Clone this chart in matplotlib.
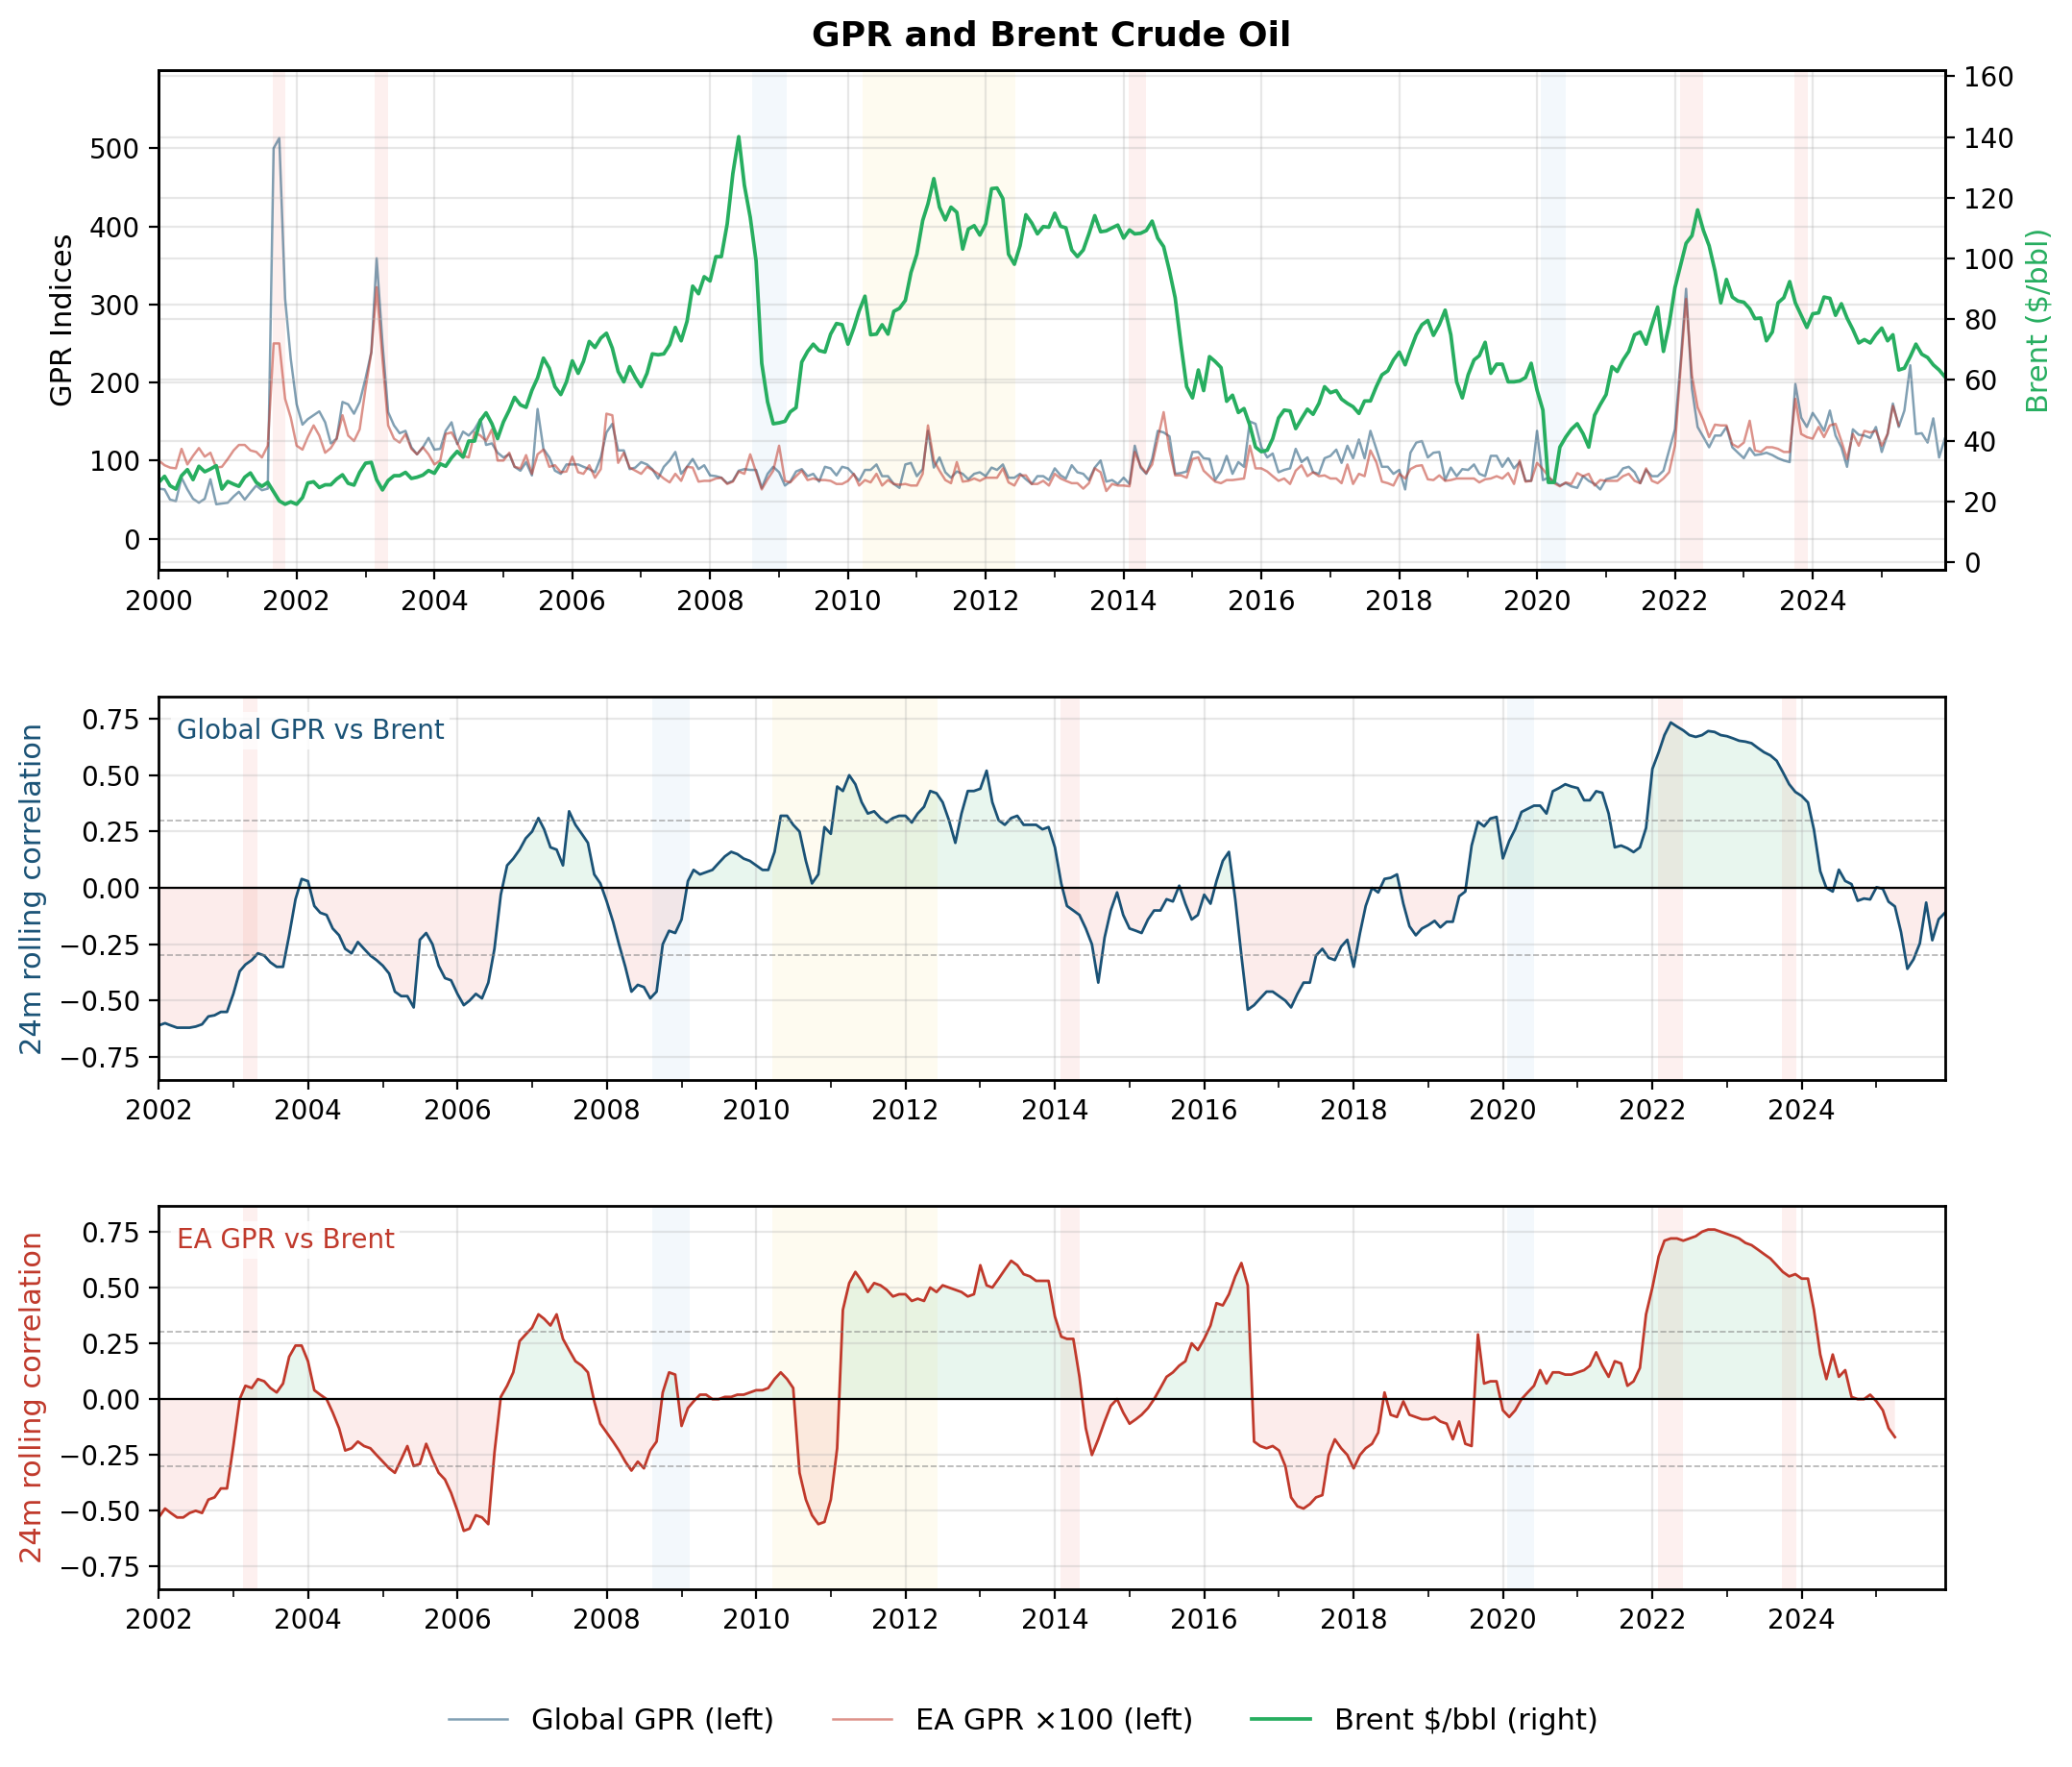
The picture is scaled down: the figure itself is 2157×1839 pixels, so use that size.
import numpy as np
import pandas as pd
import matplotlib
matplotlib.use("Agg")
import matplotlib.pyplot as plt
import matplotlib.dates as mdates


# 1. DATOS (mensuales)

# Global GPR, 2000-01 .. 2025-12
gpr_global = [
    64, 63, 50, 48, 78, 63, 51, 46, 51, 76, 44, 45,
    46, 54, 60, 50, 59, 68, 62, 64, 500, 513, 307, 230,
    172, 146, 153, 158, 163, 149, 122, 128, 175, 172, 160, 175,
    205, 239, 359, 250, 162, 145, 135, 138, 117, 108, 117, 129,
    114, 115, 138, 149, 121, 137, 132, 140, 153, 120, 122, 110,
    104, 108, 92, 87, 98, 81, 166, 115, 104, 87, 83, 95,
    95, 95, 92, 89, 85, 104, 136, 147, 113, 113, 89, 91,
    98, 95, 89, 77, 92, 100, 111, 83, 92, 102, 89, 94,
    81, 80, 78, 71, 74, 87, 89, 88, 88, 65, 83, 92,
    85, 68, 73, 86, 89, 80, 83, 73, 92, 90, 81, 92,
    90, 82, 74, 88, 88, 95, 80, 80, 70, 65, 95, 97,
    80, 89, 138, 91, 104, 85, 78, 86, 83, 76, 83, 85,
    80, 91, 88, 95, 78, 78, 83, 76, 70, 80, 80, 75,
    90, 81, 77, 94, 85, 83, 75, 91, 100, 73, 75, 70,
    78, 70, 119, 91, 83, 102, 138, 136, 131, 83, 84, 86,
    111, 111, 103, 102, 75, 86, 106, 83, 98, 92, 150, 147,
    117, 104, 109, 85, 88, 90, 115, 98, 104, 85, 83, 103,
    106, 114, 97, 119, 103, 127, 103, 138, 115, 92, 92, 83,
    88, 63, 110, 123, 125, 104, 110, 111, 75, 91, 80, 89,
    88, 95, 83, 80, 106, 106, 92, 103, 90, 98, 74, 74,
    138, 75, 78, 73, 68, 71, 67, 65, 80, 74, 70, 63,
    76, 78, 80, 90, 92, 85, 71, 88, 80, 80, 87, 113,
    140, 230, 320, 192, 143, 130, 117, 132, 132, 143, 117, 110,
    103, 116, 107, 108, 110, 107, 103, 100, 98, 198, 155, 143,
    161, 150, 138, 164, 132, 117, 92, 140, 133, 132, 129, 143,
    111, 134, 173, 143, 164, 222, 134, 135, 123, 154, 104, 128,
]

# EA GPR x100, 2000-01 .. 2025-04
gpr_ea = [
    100, 94, 91, 90, 115, 95, 106, 116, 105, 110, 91, 92,
    102, 113, 120, 120, 113, 111, 104, 119, 250, 250, 179, 155,
    119, 114, 130, 145, 132, 110, 116, 128, 158, 132, 125, 140,
    192, 239, 322, 230, 145, 128, 123, 134, 115, 108, 117, 108,
    95, 100, 134, 136, 123, 106, 104, 136, 132, 125, 140, 100,
    100, 110, 92, 90, 107, 83, 108, 114, 92, 94, 85, 86,
    105, 85, 83, 94, 78, 89, 160, 158, 97, 110, 91, 87,
    83, 92, 88, 83, 77, 72, 83, 74, 92, 91, 73, 74,
    74, 77, 78, 70, 73, 86, 83, 108, 85, 63, 76, 87,
    119, 74, 72, 80, 87, 75, 77, 75, 75, 74, 70, 70,
    74, 83, 68, 75, 72, 83, 68, 75, 70, 69, 70, 68,
    68, 83, 145, 100, 87, 75, 71, 98, 73, 74, 77, 74,
    78, 78, 78, 90, 72, 68, 81, 81, 70, 70, 74, 68,
    83, 77, 74, 71, 71, 64, 71, 90, 85, 61, 70, 68,
    68, 67, 111, 93, 84, 95, 128, 162, 113, 81, 81, 78,
    102, 104, 87, 80, 73, 71, 75, 75, 76, 77, 119, 90,
    90, 86, 80, 74, 77, 70, 87, 94, 80, 85, 80, 81,
    77, 77, 71, 95, 70, 83, 80, 113, 98, 73, 71, 68,
    83, 77, 89, 93, 94, 76, 75, 81, 74, 75, 77, 77,
    77, 77, 72, 76, 77, 80, 77, 84, 70, 100, 73, 74,
    97, 89, 80, 71, 67, 72, 70, 84, 80, 83, 68, 75,
    74, 74, 74, 80, 83, 74, 71, 90, 74, 71, 77, 85,
    119, 222, 307, 209, 168, 151, 130, 146, 145, 145, 121, 117,
    123, 151, 113, 111, 117, 117, 115, 111, 111, 179, 134, 130,
    128, 143, 130, 145, 147, 125, 102, 134, 119, 138, 136, 138,
    119, 134, 170, 145,
]

# Brent $/bbl, 2000-01 .. 2025-12
brent = [
    26.3, 28.3, 25.2, 24.1, 28.5, 30.5, 27.2, 31.6, 29.8, 30.7, 31.8, 24.1,
    26.6, 25.7, 25.0, 28.0, 29.4, 26.3, 25.0, 26.3, 23.2, 20.2, 19.1, 19.9,
    19.1, 21.3, 26.1, 26.5, 24.6, 25.5, 25.5, 27.4, 28.8, 26.0, 25.4, 29.6,
    32.6, 32.9, 27.2, 23.8, 26.9, 28.5, 28.5, 29.6, 27.6, 28.0, 28.7, 30.2,
    29.3, 32.4, 31.6, 34.4, 36.5, 34.6, 39.9, 39.9, 46.7, 49.2, 45.6, 40.7,
    46.2, 50.1, 54.3, 51.8, 51.0, 56.6, 60.7, 67.2, 63.9, 57.8, 55.2, 59.4,
    66.3, 62.2, 66.1, 72.7, 70.7, 73.8, 75.4, 70.5, 62.8, 59.4, 64.4, 60.8,
    57.8, 62.2, 68.6, 68.3, 68.6, 71.6, 77.3, 72.9, 79.3, 90.9, 88.4, 94.0,
    92.6, 100.6, 100.6, 111.4, 128.0, 140.1, 124.1, 113.6, 99.2, 65.5, 52.8, 45.6,
    45.9, 46.4, 49.5, 50.9, 65.9, 69.4, 71.8, 69.7, 69.2, 75.1, 78.6, 78.2,
    71.8, 77.1, 82.7, 87.6, 74.9, 75.1, 78.2, 75.1, 82.6, 83.6, 86.2, 95.4,
    101.4, 112.5, 118.0, 126.3, 116.9, 112.7, 116.9, 115.2, 103.1, 109.7, 110.8, 107.7,
    111.4, 123.0, 123.2, 119.7, 101.4, 98.1, 104.2, 114.4, 111.7, 108.1, 110.5, 110.3,
    114.9, 110.6, 110.1, 102.8, 100.6, 102.8, 108.1, 114.1, 108.8, 109.1, 110.1, 111.0,
    106.7, 109.4, 108.1, 108.3, 109.2, 112.3, 106.7, 103.9, 95.9, 87.1, 71.6, 57.8,
    54.1, 63.3, 56.5, 67.7, 66.1, 64.1, 53.0, 55.0, 49.3, 50.6, 45.1, 37.9,
    36.4, 36.9, 40.7, 47.5, 50.1, 49.8, 44.0, 47.3, 50.4, 48.7, 52.3, 57.8,
    55.8, 56.5, 53.7, 52.3, 51.2, 49.0, 53.1, 53.1, 57.8, 61.7, 63.0, 66.6,
    69.2, 65.0, 69.9, 74.9, 78.2, 79.6, 74.7, 78.2, 83.0, 74.9, 59.4, 54.1,
    61.7, 66.6, 68.0, 72.4, 62.2, 65.2, 65.2, 59.4, 59.4, 59.7, 60.8, 65.5,
    56.7, 50.1, 26.3, 26.3, 37.9, 41.2, 43.8, 45.6, 42.3, 37.9, 48.4, 51.9,
    55.2, 64.4, 62.8, 66.6, 69.4, 74.9, 75.8, 71.8, 78.2, 84.0, 69.4, 78.2,
    90.4, 98.1, 105.0, 107.5, 116.0, 109.2, 104.2, 95.9, 85.4, 93.1, 87.3, 86.0,
    85.6, 83.5, 80.2, 80.4, 72.9, 75.8, 85.4, 87.1, 92.4, 85.4, 81.3, 77.3,
    81.8, 82.1, 87.3, 86.9, 81.3, 85.1, 80.4, 76.6, 72.2, 73.3, 72.2, 74.9,
    77.1, 72.9, 74.9, 63.3, 63.9, 67.7, 71.8, 68.5, 67.4, 65.0, 63.3, 61.1,
]

# correlacion movil 24m Global GPR vs Brent, 2002-01 .. 2025-12
corr_global = [
    -0.61, -0.60, -0.61, -0.62, -0.62, -0.62, -0.615, -0.605, -0.57, -0.565, -0.55, -0.55,
    -0.47, -0.37, -0.34, -0.32, -0.29, -0.30, -0.33, -0.35, -0.35, -0.21, -0.05, 0.04,
    0.03, -0.08, -0.11, -0.12, -0.18, -0.21, -0.27, -0.29, -0.24, -0.27, -0.30, -0.32,
    -0.345, -0.38, -0.46, -0.48, -0.48, -0.53, -0.23, -0.20, -0.25, -0.345, -0.40, -0.41,
    -0.47, -0.52, -0.50, -0.47, -0.49, -0.42, -0.27, -0.03, 0.10, 0.13, 0.17, 0.22,
    0.25, 0.31, 0.26, 0.18, 0.17, 0.10, 0.34, 0.28, 0.24, 0.20, 0.06, 0.02,
    -0.06, -0.15, -0.25, -0.35, -0.46, -0.43, -0.44, -0.49, -0.46, -0.25, -0.19, -0.20,
    -0.14, 0.03, 0.08, 0.06, 0.07, 0.08, 0.11, 0.14, 0.16, 0.15, 0.13, 0.12,
    0.10, 0.08, 0.08, 0.16, 0.32, 0.32, 0.28, 0.25, 0.12, 0.02, 0.06, 0.27,
    0.24, 0.45, 0.43, 0.50, 0.46, 0.38, 0.33, 0.34, 0.31, 0.29, 0.31, 0.32,
    0.32, 0.29, 0.33, 0.36, 0.43, 0.42, 0.38, 0.30, 0.20, 0.33, 0.43, 0.43,
    0.44, 0.52, 0.38, 0.30, 0.28, 0.31, 0.32, 0.28, 0.28, 0.28, 0.26, 0.27,
    0.18, 0.02, -0.08, -0.10, -0.12, -0.18, -0.25, -0.42, -0.22, -0.10, -0.02, -0.12,
    -0.18, -0.19, -0.20, -0.14, -0.10, -0.10, -0.05, -0.06, 0.01, -0.07, -0.14, -0.12,
    -0.03, -0.07, 0.03, 0.12, 0.16, -0.05, -0.30, -0.54, -0.52, -0.49, -0.46, -0.46,
    -0.48, -0.50, -0.53, -0.47, -0.42, -0.42, -0.30, -0.27, -0.31, -0.32, -0.26, -0.23,
    -0.35, -0.20, -0.08, 0.00, -0.02, 0.04, 0.045, 0.06, -0.07, -0.17, -0.21, -0.18,
    -0.165, -0.146, -0.175, -0.15, -0.15, -0.037, -0.016, 0.188, 0.294, 0.273, 0.308, 0.315,
    0.131, 0.209, 0.261, 0.337, 0.351, 0.365, 0.365, 0.33, 0.429, 0.443, 0.46, 0.45,
    0.443, 0.389, 0.389, 0.429, 0.422, 0.33, 0.18, 0.188, 0.176, 0.159, 0.18, 0.266,
    0.528, 0.602, 0.678, 0.734, 0.716, 0.699, 0.678, 0.67, 0.678, 0.696, 0.692, 0.678,
    0.673, 0.663, 0.653, 0.649, 0.642, 0.621, 0.602, 0.588, 0.564, 0.514, 0.46, 0.426,
    0.408, 0.379, 0.259, 0.074, 0.0, -0.016, 0.081, 0.031, 0.017, -0.057, -0.047, -0.051,
    0.003, -0.004, -0.061, -0.082, -0.196, -0.359, -0.317, -0.246, -0.065, -0.232, -0.139, -0.111,
]

# correlacion movil 24m EA GPR vs Brent, 2002-01 .. 2025-04
corr_ea = [
    -0.53, -0.49, -0.51, -0.53, -0.53, -0.51, -0.50, -0.51, -0.45, -0.44, -0.40, -0.40,
    -0.21, 0.00, 0.06, 0.05, 0.09, 0.08, 0.05, 0.03, 0.07, 0.19, 0.24, 0.24,
    0.17, 0.04, 0.02, 0.00, -0.06, -0.13, -0.23, -0.22, -0.19, -0.21, -0.22, -0.25,
    -0.28, -0.31, -0.33, -0.27, -0.21, -0.30, -0.29, -0.20, -0.27, -0.33, -0.36, -0.42,
    -0.50, -0.59, -0.58, -0.52, -0.53, -0.56, -0.24, 0.01, 0.06, 0.12, 0.26, 0.29,
    0.32, 0.38, 0.36, 0.33, 0.38, 0.27, 0.22, 0.17, 0.15, 0.12, -0.01, -0.11,
    -0.15, -0.19, -0.23, -0.28, -0.32, -0.28, -0.31, -0.23, -0.19, 0.03, 0.12, 0.11,
    -0.12, -0.04, -0.01, 0.02, 0.02, 0.00, 0.00, 0.01, 0.01, 0.02, 0.02, 0.03,
    0.04, 0.04, 0.05, 0.09, 0.12, 0.09, 0.05, -0.33, -0.45, -0.52, -0.56, -0.55,
    -0.45, -0.22, 0.40, 0.52, 0.57, 0.53, 0.48, 0.52, 0.51, 0.49, 0.46, 0.47,
    0.47, 0.44, 0.45, 0.44, 0.50, 0.48, 0.51, 0.50, 0.49, 0.48, 0.46, 0.47,
    0.60, 0.51, 0.50, 0.54, 0.58, 0.62, 0.60, 0.56, 0.55, 0.53, 0.53, 0.53,
    0.37, 0.28, 0.27, 0.27, 0.10, -0.13, -0.25, -0.18, -0.10, -0.03, 0.00, -0.06,
    -0.11, -0.09, -0.07, -0.04, 0.00, 0.05, 0.10, 0.12, 0.15, 0.17, 0.25, 0.22,
    0.27, 0.33, 0.43, 0.42, 0.47, 0.55, 0.61, 0.51, -0.19, -0.21, -0.22, -0.21,
    -0.23, -0.30, -0.44, -0.48, -0.49, -0.47, -0.44, -0.43, -0.25, -0.18, -0.22, -0.25,
    -0.31, -0.25, -0.22, -0.20, -0.15, 0.03, -0.07, -0.08, -0.01, -0.07, -0.08, -0.09,
    -0.09, -0.08, -0.10, -0.11, -0.18, -0.10, -0.20, -0.21, 0.29, 0.07, 0.08, 0.08,
    -0.05, -0.08, -0.05, 0.00, 0.03, 0.06, 0.13, 0.07, 0.12, 0.12, 0.11, 0.11,
    0.12, 0.13, 0.15, 0.21, 0.15, 0.10, 0.17, 0.16, 0.06, 0.08, 0.14, 0.38,
    0.50, 0.64, 0.71, 0.72, 0.72, 0.71, 0.72, 0.73, 0.75, 0.76, 0.76, 0.75,
    0.74, 0.73, 0.72, 0.70, 0.69, 0.67, 0.65, 0.63, 0.60, 0.57, 0.55, 0.56,
    0.54, 0.54, 0.40, 0.20, 0.09, 0.20, 0.10, 0.13, 0.01, 0.00, 0.00, 0.02,
    -0.01, -0.05, -0.13, -0.17,
]

# episodios sombreados (inicio, fin, tipo)
eventos = [
    ("2001-08-28", "2001-11-02", "rojo"),
    ("2003-02-18", "2003-05-01", "rojo"),
    ("2008-08-10", "2009-02-10", "azul"),
    ("2010-03-20", "2012-06-05", "amarillo"),
    ("2014-01-28", "2014-05-01", "rojo"),
    ("2020-01-20", "2020-06-01", "azul"),
    ("2022-01-28", "2022-06-01", "rojo"),
    ("2023-09-28", "2023-12-05", "rojo"),
]


# 2. ESTILO

C_AZUL = "#1a5276"
C_ROJO = "#c0392b"
C_VERDE = "#27ae60"
COLOR_BANDA = {"rojo": ("#e74c3c", 0.08), "azul": ("#3498db", 0.06), "amarillo": ("#f1c40f", 0.06)}

plt.rcParams["font.family"] = ["DejaVu Sans"]
plt.rcParams["axes.linewidth"] = 1.0
plt.rcParams["xtick.labelsize"] = 10
plt.rcParams["ytick.labelsize"] = 10


def sombrear(ax):
    for ini, fin, tipo in eventos:
        color, alfa = COLOR_BANDA[tipo]
        ax.axvspan(pd.Timestamp(ini), pd.Timestamp(fin), color=color, alpha=alfa, lw=0, zorder=0)


def ejes_fecha(ax, inicio, fin):
    ax.xaxis.set_major_locator(mdates.YearLocator(2))
    ax.xaxis.set_minor_locator(mdates.YearLocator(1))
    ax.xaxis.set_major_formatter(mdates.DateFormatter("%Y"))
    ax.tick_params(axis="x", which="minor", length=3)
    ax.set_xlim(pd.Timestamp(inicio), pd.Timestamp(fin))


def panel_corr(ax, fechas, valores, color, etiqueta):
    valores = np.asarray(valores)
    sombrear(ax)
    ax.fill_between(fechas, valores, 0, where=valores >= 0, interpolate=True,
                    color=C_VERDE, alpha=0.1, lw=0)
    ax.fill_between(fechas, valores, 0, where=valores < 0, interpolate=True,
                    color="#e74c3c", alpha=0.1, lw=0)
    ax.plot(fechas, valores, color=color, lw=1.0)
    ax.axhline(0, color="black", lw=0.8)
    ax.axhline(0.3, color="gray", lw=0.6, ls="--", alpha=0.6)
    ax.axhline(-0.3, color="gray", lw=0.6, ls="--", alpha=0.6)
    ax.set_ylabel("24m rolling correlation", color=color, fontsize=11)
    ax.set_yticks([-0.75, -0.5, -0.25, 0, 0.25, 0.5, 0.75])
    ax.grid(True, alpha=0.3)
    ax.text(0.01, 0.945, etiqueta, transform=ax.transAxes, color=color, fontsize=10,
            va="top", ha="left",
            bbox=dict(facecolor="white", edgecolor="none", alpha=0.8, pad=2))
    ejes_fecha(ax, "2002-01-01", "2025-12-01")


# 3. FIGURA

fechas = pd.date_range("2000-01-01", periods=len(gpr_global), freq="MS")
fechas_ea = fechas[:len(gpr_ea)]
fechas_corr = pd.date_range("2002-01-01", periods=len(corr_global), freq="MS")
fechas_corr_ea = fechas_corr[:len(corr_ea)]

fig = plt.figure(figsize=(10.785, 9.195), dpi=200)
ax1 = fig.add_axes([0.0766, 0.6775, 0.862, 0.2828])
ax_g = fig.add_axes([0.0766, 0.3888, 0.862, 0.2170])
ax_e = fig.add_axes([0.0766, 0.1008, 0.862, 0.2169])

# panel superior
sombrear(ax1)
l1, = ax1.plot(fechas, gpr_global, color=C_AZUL, alpha=0.55, lw=0.9, label="Global GPR (left)")
l2, = ax1.plot(fechas_ea, gpr_ea, color=C_ROJO, alpha=0.55, lw=0.9, label="EA GPR \u00d7100 (left)")
ax1.set_ylim(-40, 600)
ax1.set_yticks([0, 100, 200, 300, 400, 500])
ax1.set_ylabel("GPR Indices", fontsize=11)
ax1.grid(True, alpha=0.3)
ejes_fecha(ax1, "2000-01-01", "2025-12-01")

ax2 = ax1.twinx()
l3, = ax2.plot(fechas, brent, color=C_VERDE, lw=1.35, label="Brent $/bbl (right)")
ax2.set_ylim(-2.5, 162)
ax2.set_yticks(range(0, 161, 20))
ax2.set_ylabel("Brent ($/bbl)", color=C_VERDE, fontsize=11)
ax2.grid(True, axis="y", alpha=0.3)

fig.text(0.5076, 0.9798, "GPR and Brent Crude Oil", ha="center", va="center",
         fontsize=13, fontweight="bold")

# paneles de correlacion
panel_corr(ax_g, fechas_corr, corr_global, C_AZUL, "Global GPR vs Brent")
ax_g.set_ylim(-0.852, 0.849)
panel_corr(ax_e, fechas_corr_ea, corr_ea, C_ROJO, "EA GPR vs Brent")
ax_e.set_ylim(-0.85, 0.867)

fig.legend(handles=[l1, l2, l3], loc="center", bbox_to_anchor=(0.494, 0.026),
           ncol=3, frameon=False, fontsize=11)

fig.savefig("out.png", dpi=200)
